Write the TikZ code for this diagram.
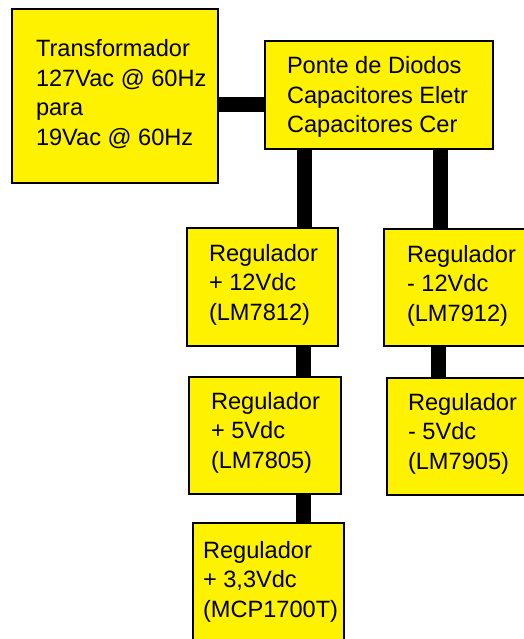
\documentclass[tikz,border=0pt]{standalone}
\usepackage{fontspec}
\setmainfont{Liberation Sans}
\begin{document}
\begin{tikzpicture}[x=1pt,y=-1pt,
  blk/.style={draw=black,line width=2.6pt,fill=yellow,rectangle,inner sep=0pt,outer sep=0pt},
  bar/.style={line width=15pt,black,line cap=butt},
  txt/.style={anchor=base west,inner sep=0pt,outer sep=0pt}]
\useasboundingbox (0,0) rectangle (524,639);
\clip (0,0) rectangle (524,639);
\newcommand{\lbl}[1]{\parbox[t]{300pt}{\fontsize{23.6}{29.5}\selectfont\raggedright #1}}
% boxes
\node[blk,minimum width=206pt,minimum height=174pt] (trans) at (115,96) {};
\node[blk,minimum width=228pt,minimum height=108pt] (ponte) at (379,95) {};
\node[blk,minimum width=151pt,minimum height=118pt] (rp12) at (262.5,287) {};
\node[blk,minimum width=156pt,minimum height=117pt] (rm12) at (462,287.5) {};
\node[blk,minimum width=152pt,minimum height=117pt] (rp5) at (265,435.5) {};
\node[blk,minimum width=153pt,minimum height=117pt] (rm5) at (463.5,436.5) {};
\node[blk,minimum width=151pt,minimum height=157pt] (rp33) at (268.5,601.5) {};
% connector guide coordinates
\coordinate (hy) at (0,105);
\coordinate (xa) at (304,0);
\coordinate (xb) at (440,0);
\coordinate (xc) at (303,0);
\coordinate (xd) at (438,0);
% connectors
\draw[bar] (trans.east |- hy) -- (ponte.west |- hy);
\draw[bar] (ponte.south -| xa) -- (rp12.north -| xa);
\draw[bar] (ponte.south -| xb) -- (rm12.north -| xb);
\draw[bar] (rp12.south -| xc) -- (rp5.north -| xc);
\draw[bar] (rm12.south -| xd) -- (rm5.north -| xd);
\draw[bar] (rp5.south -| xc) -- (rp33.north -| xc);
% texts
\node[txt] (ttrans) at (36,57) {\lbl{Transformador\\127Vac @ 60Hz\\para\\19Vac @ 60Hz}};
\node[txt] (tponte) at (287,74) {\lbl{Ponte de Diodos\\Capacitores Eletr\\Capacitores Cer}};
\node[txt] (trp12) at (209,261) {\lbl{Regulador\\+ 12Vdc\\(LM7812)}};
\node[txt] (trm12) at (407,262) {\lbl{Regulador\\- 12Vdc\\(LM7912)}};
\node[txt] (trp5) at (211,409) {\lbl{Regulador\\+ 5Vdc\\(LM7805)}};
\node[txt] (trm5) at (408,410) {\lbl{Regulador\\- 5Vdc\\(LM7905)}};
\node[txt] (trp33) at (203,558) {\lbl{Regulador\\+ 3,3Vdc\\(MCP1700T)}};
\end{tikzpicture}
\end{document}
